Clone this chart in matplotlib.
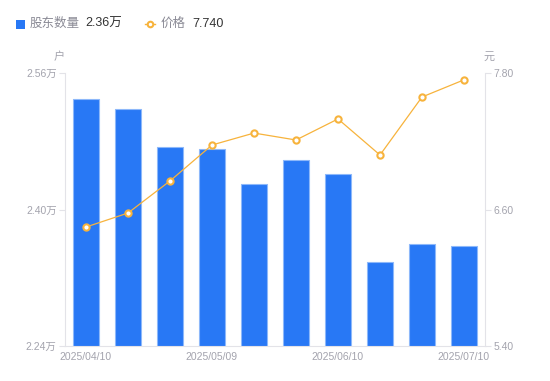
import matplotlib
matplotlib.use("Agg")
import matplotlib.pyplot as plt
import numpy as np

plt.rcParams['font.family'] = ['Liberation Sans', 'Noto Sans CJK SC', 'DejaVu Sans']

dates = ["2025/04/10", "2025/04/18", "2025/04/30", "2025/05/09", "2025/05/20",
         "2025/05/30", "2025/06/10", "2025/06/20", "2025/06/30", "2025/07/10"]
holders = [2.530, 2.518, 2.473, 2.471, 2.430, 2.458, 2.442, 2.338, 2.360, 2.357]  # 万户
price = [6.446, 6.569, 6.851, 7.167, 7.272, 7.211, 7.396, 7.079, 7.589, 7.740]
left_ticks = [2.24, 2.40, 2.56]
right_ticks = [5.40, 6.60, 7.80]

W, H = 550, 381
fig = plt.figure(figsize=(W / 100, H / 100), dpi=100)
L, R, T, B = 65, 485, 73, 346
ax = fig.add_axes([L / W, (H - B) / H, (R - L) / W, (B - T) / H])
ax2 = ax.twinx()

x = np.arange(len(dates))
bar_color = '#2878F5'
ax.bar(x, holders, width=0.62, color=bar_color, edgecolor='#8DB8FA', linewidth=0.8, zorder=2)
ax.set_xlim(-0.5, len(dates) - 0.5)
ax.set_ylim(left_ticks[0], left_ticks[-1])
ax.set_yticks(left_ticks)
ax.set_yticklabels([f"{v:.2f}万" for v in left_ticks])

line_color = '#F7B33C'
ax2.plot(x, price, color=line_color, linewidth=0.9, marker='o', markersize=4.5,
         markerfacecolor='white', markeredgecolor=line_color, markeredgewidth=1.5,
         zorder=3, clip_on=False)
ax2.set_ylim(right_ticks[0], right_ticks[-1])
ax2.set_yticks(right_ticks)
ax2.set_yticklabels([f"{v:.2f}" for v in right_ticks])

show = [0, 3, 6, 9]
ax.set_xticks(show)
ax.set_xticklabels([dates[i] for i in show])

axis_c = '#E3E3E8'
label_c = '#A3A3AD'
for a in (ax, ax2):
    for s in a.spines.values():
        s.set_visible(False)
ax.spines['left'].set_visible(True)
ax.spines['left'].set_color(axis_c)
ax.spines['bottom'].set_visible(True)
ax.spines['bottom'].set_color(axis_c)
ax2.spines['right'].set_visible(True)
ax2.spines['right'].set_color(axis_c)

ax.tick_params(axis='y', colors=axis_c, labelcolor=label_c, labelsize=7.5, length=4, width=0.8, pad=2)
ax2.tick_params(axis='y', colors=axis_c, labelcolor=label_c, labelsize=7.5, length=4, width=0.8, pad=2)
ax.tick_params(axis='x', length=0, labelcolor=label_c, labelsize=7.5, pad=4)

# unit labels
fig.text(59 / W, 1 - 57 / H, "户", ha='center', va='center', fontsize=8, color=label_c)
fig.text(489 / W, 1 - 57 / H, "元", ha='center', va='center', fontsize=8, color=label_c)

# legend
ly = 1 - 24 / H
fig.patches.append(plt.Rectangle((16 / W, 1 - 29 / H), 9 / W, 9 / H, transform=fig.transFigure,
                                 facecolor=bar_color, edgecolor='none'))
fig.text(30 / W, ly, "股东数量", ha='left', va='center', fontsize=9, color='#8A8A95')
fig.text(85 / W, ly, f"{holders[-1]:.2f}万", ha='left', va='center', fontsize=9, color='#333333')
fig.lines.append(plt.Line2D([145 / W, 155 / W], [ly, ly], transform=fig.transFigure,
                            color=line_color, linewidth=1))
fig.lines.append(plt.Line2D([150 / W], [ly], transform=fig.transFigure, marker='o', markersize=4,
                            markerfacecolor='white', markeredgecolor=line_color, markeredgewidth=1.5))
fig.text(161 / W, ly, "价格", ha='left', va='center', fontsize=9, color='#8A8A95')
fig.text(192 / W, ly, f"{price[-1]:.3f}", ha='left', va='center', fontsize=9, color='#333333')

fig.savefig("out.png", dpi=100)
